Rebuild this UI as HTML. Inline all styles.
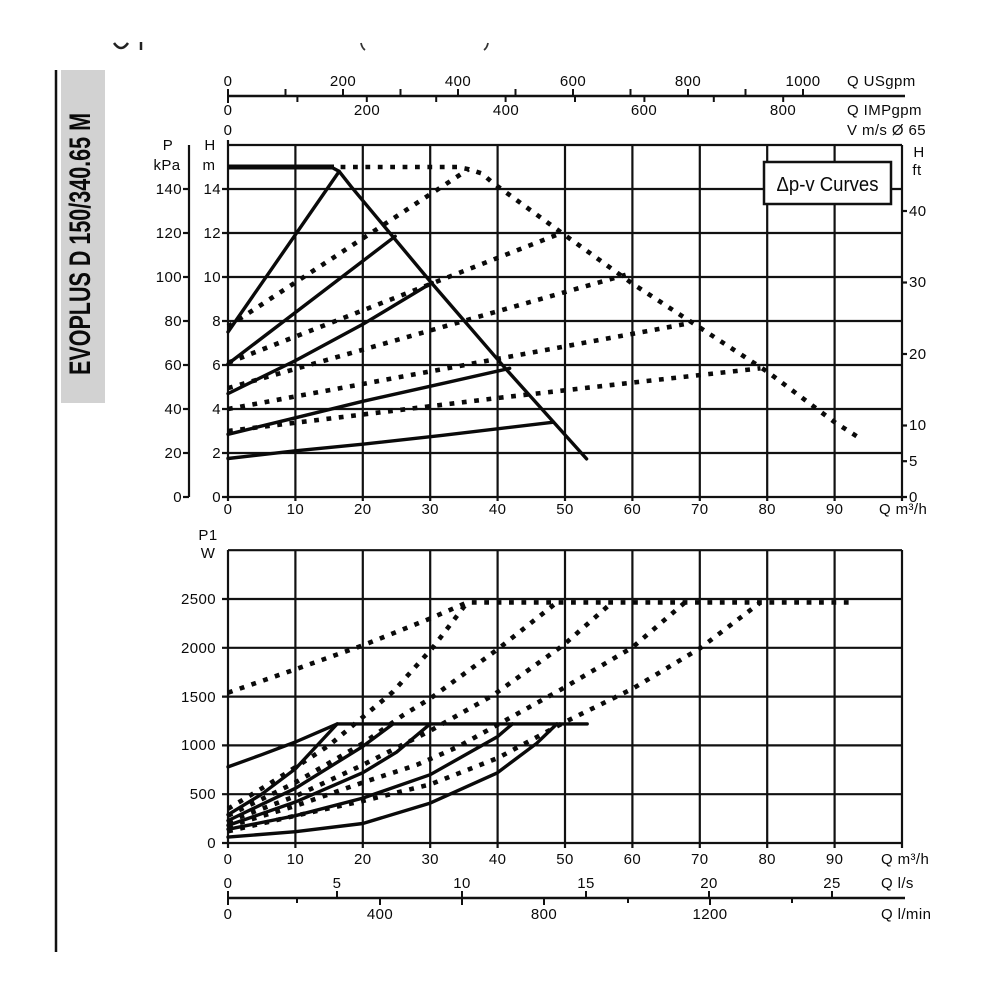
<!DOCTYPE html>
<html><head><meta charset="utf-8"><style>
html,body{margin:0;padding:0;background:#fff;}
svg{display:block;}
text{font-family:"Liberation Sans",Arial,sans-serif;fill:#0a0a0a;font-size:15px;letter-spacing:0.4px;}
.g{stroke:#111;stroke-width:2.2;fill:none;}
.s{stroke:#0a0a0a;stroke-width:3.4;fill:none;stroke-linejoin:round;stroke-linecap:round;}
.d{stroke:#0a0a0a;stroke-width:4.6;fill:none;stroke-dasharray:4.8 7.6;stroke-linejoin:round;}
.m{text-anchor:middle;}
.e{text-anchor:end;}
</style></head><body>
<svg width="1000" height="1000" viewBox="0 0 1000 1000" xmlns="http://www.w3.org/2000/svg">
<rect width="1000" height="1000" fill="#fff"/>
<!-- header fragments -->
<path d="M114,43 Q121,53 128,43" stroke="#222" stroke-width="2.5" fill="none"/>
<line x1="141" y1="42" x2="141" y2="50" stroke="#222" stroke-width="2.5"/>
<path d="M361,43 Q362,48 365,50" stroke="#333" stroke-width="1.8" fill="none"/>
<path d="M488,43 Q487,48 484,50" stroke="#333" stroke-width="1.8" fill="none"/>

<!-- left bar -->
<line x1="56" y1="70" x2="56" y2="952" stroke="#111" stroke-width="2.5"/>
<rect x="61" y="70" width="44" height="333" fill="#d2d2d2"/>
<text transform="translate(90,244) rotate(-90)" text-anchor="middle" style="font-size:30px;font-weight:bold;letter-spacing:0" textLength="262" lengthAdjust="spacingAndGlyphs">EVOPLUS D 150/340.65 M</text>

<!-- top axis -->
<line x1="228" y1="96" x2="905" y2="96" stroke="#111" stroke-width="2.5"/>
<g stroke="#111" stroke-width="2">
<line x1="228" y1="89" x2="228" y2="103"/>
<line x1="285.5" y1="89" x2="285.5" y2="96"/><line x1="343" y1="89" x2="343" y2="96"/><line x1="400.5" y1="89" x2="400.5" y2="96"/><line x1="458" y1="89" x2="458" y2="96"/><line x1="515.5" y1="89" x2="515.5" y2="96"/><line x1="573" y1="89" x2="573" y2="96"/><line x1="630.5" y1="89" x2="630.5" y2="96"/><line x1="688" y1="89" x2="688" y2="96"/><line x1="745.5" y1="89" x2="745.5" y2="96"/><line x1="803" y1="89" x2="803" y2="96"/>
<line x1="297.4" y1="96" x2="297.4" y2="102"/><line x1="366.8" y1="96" x2="366.8" y2="102"/><line x1="436.2" y1="96" x2="436.2" y2="102"/><line x1="505.6" y1="96" x2="505.6" y2="102"/><line x1="575" y1="96" x2="575" y2="102"/><line x1="644.4" y1="96" x2="644.4" y2="102"/><line x1="713.8" y1="96" x2="713.8" y2="102"/><line x1="783.2" y1="96" x2="783.2" y2="102"/>
</g>
<text class="m" x="228" y="86">0</text><text class="m" x="343" y="86">200</text><text class="m" x="458" y="86">400</text><text class="m" x="573" y="86">600</text><text class="m" x="688" y="86">800</text><text class="m" x="803" y="86">1000</text>
<text x="847" y="86">Q USgpm</text>
<text class="m" x="228" y="115">0</text><text class="m" x="367" y="115">200</text><text class="m" x="506" y="115">400</text><text class="m" x="644" y="115">600</text><text class="m" x="783" y="115">800</text>
<text x="847" y="115">Q IMPgpm</text>
<text x="847" y="135">V m/s Ø 65</text>
<text class="m" x="228" y="135">0</text>

<!-- UPPER CHART grid -->
<g class="g">
<line x1="228" y1="140" x2="228" y2="501"/>
<line x1="295.4" y1="145" x2="295.4" y2="501"/><line x1="362.8" y1="145" x2="362.8" y2="501"/><line x1="430.2" y1="145" x2="430.2" y2="501"/><line x1="497.6" y1="145" x2="497.6" y2="501"/><line x1="565" y1="145" x2="565" y2="501"/><line x1="632.4" y1="145" x2="632.4" y2="501"/><line x1="699.8" y1="145" x2="699.8" y2="501"/><line x1="767.2" y1="145" x2="767.2" y2="501"/><line x1="834.6" y1="145" x2="834.6" y2="501"/><line x1="902" y1="145" x2="902" y2="501"/>
<line x1="222" y1="497" x2="907" y2="497"/><line x1="222" y1="453" x2="902" y2="453"/><line x1="222" y1="409" x2="902" y2="409"/><line x1="222" y1="365" x2="902" y2="365"/><line x1="222" y1="321" x2="902" y2="321"/><line x1="222" y1="277" x2="902" y2="277"/><line x1="222" y1="233" x2="902" y2="233"/><line x1="222" y1="189" x2="902" y2="189"/><line x1="228" y1="145" x2="902" y2="145"/>
<!-- kPa axis -->
<line x1="189" y1="145" x2="189" y2="497"/>
<line x1="183" y1="497" x2="189" y2="497"/><line x1="183" y1="453" x2="189" y2="453"/><line x1="183" y1="409" x2="189" y2="409"/><line x1="183" y1="365" x2="189" y2="365"/><line x1="183" y1="321" x2="189" y2="321"/><line x1="183" y1="277" x2="189" y2="277"/><line x1="183" y1="233" x2="189" y2="233"/><line x1="183" y1="189" x2="189" y2="189"/>
<!-- ft ticks -->
<line x1="902" y1="461.2" x2="907" y2="461.2"/><line x1="902" y1="425.5" x2="907" y2="425.5"/><line x1="902" y1="354" x2="907" y2="354"/><line x1="902" y1="282.5" x2="907" y2="282.5"/><line x1="902" y1="211" x2="907" y2="211"/>
</g>
<text class="m" x="168" y="150">P</text><text class="m" x="167" y="170">kPa</text>
<text class="m" x="210" y="150">H</text><text class="m" x="209" y="170">m</text>
<text class="e" x="182" y="502">0</text><text class="e" x="182" y="458">20</text><text class="e" x="182" y="414">40</text><text class="e" x="182" y="370">60</text><text class="e" x="182" y="326">80</text><text class="e" x="182" y="282">100</text><text class="e" x="182" y="238">120</text><text class="e" x="182" y="194">140</text>
<text class="e" x="221" y="502">0</text><text class="e" x="221" y="458">2</text><text class="e" x="221" y="414">4</text><text class="e" x="221" y="370">6</text><text class="e" x="221" y="326">8</text><text class="e" x="221" y="282">10</text><text class="e" x="221" y="238">12</text><text class="e" x="221" y="194">14</text>
<text x="909" y="502">0</text><text x="909" y="466">5</text><text x="909" y="430">10</text><text x="909" y="359">20</text><text x="909" y="287">30</text><text x="909" y="216">40</text>
<text class="m" x="919" y="157">H</text><text class="m" x="917" y="175">ft</text>
<text class="m" x="228" y="514">0</text><text class="m" x="295.4" y="514">10</text><text class="m" x="362.8" y="514">20</text><text class="m" x="430.2" y="514">30</text><text class="m" x="497.6" y="514">40</text><text class="m" x="565" y="514">50</text><text class="m" x="632.4" y="514">60</text><text class="m" x="699.8" y="514">70</text><text class="m" x="767.2" y="514">80</text><text class="m" x="834.6" y="514">90</text>
<text x="879" y="514">Q m³/h</text>

<!-- legend -->
<rect x="764" y="162" width="127" height="42" fill="#fff" stroke="#111" stroke-width="2.5"/>
<text class="m" x="827.5" y="191" style="font-size:20px;letter-spacing:0" textLength="102" lengthAdjust="spacingAndGlyphs">Δp-v Curves</text>

<!-- upper dotted curves -->
<polyline class="d" points="340.6,167 457.2,167 468.6,169.2 482.1,173.6 492.2,182.4 565,235.2 632.4,283.6 699.8,327.6 767.2,371.6 834.6,422.2 858.9,437.6"/>
<polyline class="d" points="228,326.5 468.6,169.2"/>
<polyline class="d" points="228,362.8 561.6,233"/>
<polyline class="d" points="228,388.1 625.7,274.8"/>
<polyline class="d" points="228,409 689.7,323.2"/>
<polyline class="d" points="228,431 362.8,414.5 497.6,398 632.4,382.6 760.5,368.3"/>
<!-- upper solid curves -->
<line x1="228" y1="167" x2="334" y2="167" stroke="#0a0a0a" stroke-width="5"/>
<polyline class="s" points="331.1,167 339.2,171.4 351.3,186.8 430.2,281.4 504.3,367.2 586.6,458.9"/>
<polyline class="s" points="228,332 339.2,171.4"/>
<polyline class="s" points="228,363.9 395.2,236.3"/>
<polyline class="s" points="228,393.6 295.4,360.6 362.8,324.3 432.2,282.5"/>
<polyline class="s" points="228,434.3 295.4,417.8 362.8,401.3 441.7,383.7 509.7,368.3"/>
<polyline class="s" points="228,458.5 295.4,450.8 362.8,444.2 441.7,435.4 553.5,422.2"/>

<!-- LOWER CHART grid -->
<g class="g">
<line x1="228" y1="550" x2="228" y2="848"/>
<line x1="295.4" y1="550" x2="295.4" y2="848"/><line x1="362.8" y1="550" x2="362.8" y2="848"/><line x1="430.2" y1="550" x2="430.2" y2="848"/><line x1="497.6" y1="550" x2="497.6" y2="848"/><line x1="565" y1="550" x2="565" y2="848"/><line x1="632.4" y1="550" x2="632.4" y2="848"/><line x1="699.8" y1="550" x2="699.8" y2="848"/><line x1="767.2" y1="550" x2="767.2" y2="848"/><line x1="834.6" y1="550" x2="834.6" y2="848"/><line x1="902" y1="550" x2="902" y2="848"/>
<line x1="222" y1="843" x2="902" y2="843"/><line x1="222" y1="794.2" x2="902" y2="794.2"/><line x1="222" y1="745.4" x2="902" y2="745.4"/><line x1="222" y1="696.6" x2="902" y2="696.6"/><line x1="222" y1="647.8" x2="902" y2="647.8"/><line x1="222" y1="599" x2="902" y2="599"/><line x1="228" y1="550.2" x2="902" y2="550.2"/>
</g>
<text class="m" x="208" y="540">P1</text><text class="m" x="208" y="558">W</text>
<text class="e" x="216" y="848">0</text><text class="e" x="216" y="799">500</text><text class="e" x="216" y="750">1000</text><text class="e" x="216" y="702">1500</text><text class="e" x="216" y="653">2000</text><text class="e" x="216" y="604">2500</text>
<text class="m" x="228" y="864">0</text><text class="m" x="295.4" y="864">10</text><text class="m" x="362.8" y="864">20</text><text class="m" x="430.2" y="864">30</text><text class="m" x="497.6" y="864">40</text><text class="m" x="565" y="864">50</text><text class="m" x="632.4" y="864">60</text><text class="m" x="699.8" y="864">70</text><text class="m" x="767.2" y="864">80</text><text class="m" x="834.6" y="864">90</text>
<text x="881" y="864">Q m³/h</text>

<!-- lower dotted -->
<polyline class="d" points="228,692.7 295.4,669.3 362.8,645.4 430.2,618.5 467.3,602.4 850.1,602.4"/>
<polyline class="d" points="228,808.8 268.4,784.4 302.1,763 329.1,745.4 362.8,717.1 393.1,691.7 432.9,647.4 467.3,602.4"/>
<polyline class="d" points="228,815.7 295.4,782.5 362.8,743.4 403.2,715.1 430.2,698.6 497.6,649.3 556.9,602.4"/>
<polyline class="d" points="228,821.5 295.4,796.2 362.8,764.9 430.2,730.8 492.9,695.3 563,645.4 612.2,602.4"/>
<polyline class="d" points="228,826.4 295.4,805.9 362.8,782.5 416.7,764.9 457.2,747.2 513.1,716.1 559.6,690.3 632.4,647.4 685,602.4"/>
<polyline class="d" points="228,831.3 295.4,815.7 362.8,801 430.2,784.4 497.6,758.1 565,722 632.4,688.8 699.8,648.4 760.5,602.4"/>
<!-- lower solid -->
<polyline class="s" points="228,766.9 261.7,754.7 295.4,742 337.2,723.9 587.2,723.9"/>
<polyline class="s" points="228,814.7 261.7,794.2 295.4,768.8 337.2,723.9"/>
<polyline class="s" points="228,820.6 295.4,788.3 362.8,746.4 393.1,723.9"/>
<polyline class="s" points="228,825.4 295.4,802 362.8,772.7 396.5,752.2 430.2,723.9"/>
<polyline class="s" points="228,829.3 295.4,815.7 362.8,798.1 430.2,774.7 497.6,736.6 512.4,723.9"/>
<polyline class="s" points="228,837.1 295.4,831.7 362.8,823.5 430.2,803.1 496.9,773.1 536.7,743.3 556.9,723.9"/>

<!-- bottom axis -->
<line x1="228" y1="898" x2="905" y2="898" stroke="#111" stroke-width="2.5"/>
<g stroke="#111" stroke-width="2">
<line x1="228" y1="891" x2="228" y2="905"/>
<line x1="337" y1="891" x2="337" y2="898"/><line x1="462" y1="891" x2="462" y2="905"/><line x1="586" y1="891" x2="586" y2="898"/><line x1="709" y1="891" x2="709" y2="898"/><line x1="832" y1="891" x2="832" y2="898"/>
<line x1="297" y1="898" x2="297" y2="903"/><line x1="380" y1="898" x2="380" y2="905"/><line x1="544" y1="898" x2="544" y2="905"/><line x1="628" y1="898" x2="628" y2="903"/><line x1="710" y1="898" x2="710" y2="905"/><line x1="792" y1="898" x2="792" y2="903"/>
</g>
<text class="m" x="228" y="888">0</text><text class="m" x="337" y="888">5</text><text class="m" x="462" y="888">10</text><text class="m" x="586" y="888">15</text><text class="m" x="709" y="888">20</text><text class="m" x="832" y="888">25</text>
<text x="881" y="888">Q l/s</text>
<text class="m" x="228" y="919">0</text><text class="m" x="380" y="919">400</text><text class="m" x="544" y="919">800</text><text class="m" x="710" y="919">1200</text>
<text x="881" y="919">Q l/min</text>
</svg>
</body></html>
